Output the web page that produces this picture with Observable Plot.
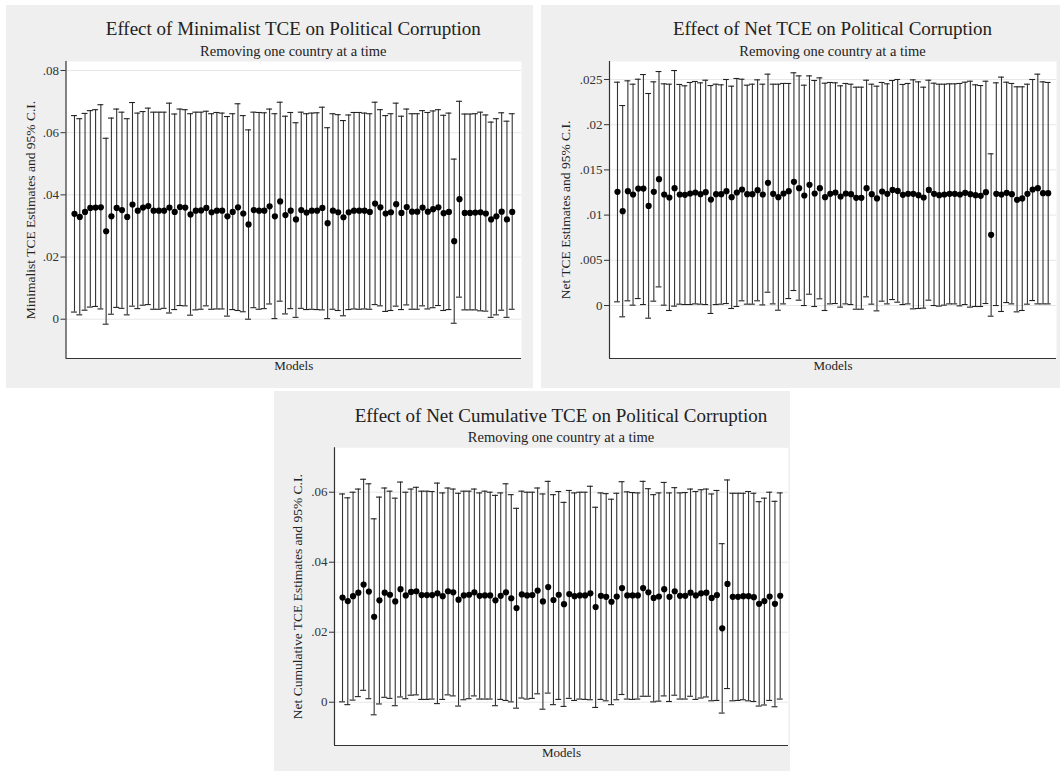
<!DOCTYPE html>
<html>
<head>
<meta charset="utf-8">
<script src="https://cdn.jsdelivr.net/npm/d3@7"></script>
<script src="https://cdn.jsdelivr.net/npm/@observablehq/plot@0.6"></script>
<style>
  body { margin: 0; background: #ffffff; }
  #root { position: relative; width: 1060px; height: 773px; overflow: hidden;
          font-family: "Liberation Serif", "Times New Roman", serif; color: #222; }
  .panel { position: absolute; background: #efefef; }
  .txt { position: absolute; white-space: nowrap; transform: translateX(-50%); line-height: 1; }
  .plotbox { position: absolute; }
  .plotbox svg { overflow: visible; }
</style>
</head>
<body>
<div id="root"></div>
<script>
// ---------------- DATA ----------------
const models = d3.range(1, 85); // 84 models, one country removed in each

const subtitle = "Removing one country at a time";
const xLabel = "Models";

// Panel 1: Minimalist TCE
const minTitle = "Effect of Minimalist TCE on Political Corruption";
const minYLabel = "Minimalist TCE Estimates and 95% C.I.";
const minTicks = [0, 0.02, 0.04, 0.06, 0.08];
const minTickLabels = ["0", ".02", ".04", ".06", ".08"];
const minEst = [0.0339,0.0329,0.0345,0.0358,0.0359,0.0360,0.0283,0.0331,0.0358,0.0351,0.0329,0.0369,0.0349,0.0359,0.0364,0.0349,0.0349,0.0349,0.0359,0.0345,0.0361,0.0359,0.0337,0.0349,0.0350,0.0358,0.0344,0.0349,0.0349,0.0331,0.0345,0.0360,0.0340,0.0305,0.0351,0.0349,0.0349,0.0363,0.0331,0.0379,0.0335,0.0349,
  0.0321,0.0351,0.0343,0.0349,0.0349,0.0358,0.0309,0.0349,0.0344,0.0328,0.0344,0.0349,0.0349,0.0349,0.0345,0.0372,0.0360,0.0340,0.0344,0.0370,0.0342,0.0361,0.0346,0.0346,0.0359,0.0346,0.0354,0.0360,0.0341,0.0345,0.0251,0.0386,0.0342,0.0342,0.0343,0.0344,0.0340,0.0321,0.0331,0.0346,0.0321,0.0345];
const minHi = [0.0655,0.0645,0.0662,0.0671,0.0674,0.0690,0.0582,0.0647,0.0676,0.0666,0.0645,0.0697,0.0663,0.0668,0.0679,0.0666,0.0666,0.0666,0.0695,0.0660,0.0676,0.0674,0.0661,0.0666,0.0666,0.0669,0.0661,0.0665,0.0663,0.0652,0.0661,0.0693,0.0655,0.0609,0.0666,0.0665,0.0664,0.0676,0.0661,0.0698,0.0653,0.0665,
  0.0632,0.0666,0.0661,0.0663,0.0664,0.0682,0.0616,0.0661,0.0658,0.0639,0.0657,0.0665,0.0665,0.0663,0.0661,0.0698,0.0674,0.0655,0.0661,0.0695,0.0653,0.0676,0.0661,0.0661,0.0671,0.0665,0.0670,0.0674,0.0656,0.0663,0.0515,0.0701,0.0660,0.0660,0.0661,0.0666,0.0657,0.0634,0.0645,0.0664,0.0637,0.0661];
const minLo = [0.0023,0.0014,0.0029,0.0039,0.0041,0.0033,-0.0016,0.0016,0.0038,0.0035,0.0014,0.0042,0.0034,0.0045,0.0047,0.0032,0.0032,0.0035,0.0020,0.0031,0.0044,0.0043,0.0013,0.0030,0.0032,0.0043,0.0032,0.0033,0.0033,0.0010,0.0031,0.0028,0.0024,0.0000,0.0037,0.0032,0.0034,0.0049,0.0002,0.0058,0.0017,0.0034,
  0.0006,0.0035,0.0031,0.0032,0.0031,0.0030,0.0002,0.0032,0.0028,0.0011,0.0031,0.0033,0.0032,0.0033,0.0032,0.0047,0.0043,0.0025,0.0028,0.0042,0.0031,0.0046,0.0032,0.0032,0.0043,0.0033,0.0037,0.0044,0.0028,0.0031,-0.0013,0.0071,0.0030,0.0030,0.0030,0.0027,0.0026,0.0006,0.0014,0.0029,0.0006,0.0032];

// Panel 2: Net TCE
const netTitle = "Effect of Net TCE on Political Corruption";
const netYLabel = "Net TCE Estimates and 95% C.I.";
const netTicks = [0, 0.005, 0.01, 0.015, 0.02, 0.025];
const netTickLabels = ["0", ".005", ".01", ".015", ".02", ".025"];
const netEst = [0.01257,0.01043,0.01265,0.01228,0.01294,0.01294,0.01102,0.01257,0.01397,0.01228,0.01195,0.01298,0.01228,0.01224,0.01239,0.01250,0.01231,0.01254,0.01172,0.01231,0.01231,0.01265,0.01198,0.01250,0.01283,0.01231,0.01231,0.01276,0.01228,0.01357,0.01235,0.01198,0.01239,0.01265,0.01368,0.01298,0.01217,0.01335,0.01239,0.01298,0.01198,0.01235,
  0.01250,0.01206,0.01239,0.01231,0.01191,0.01191,0.01298,0.01231,0.01184,0.01261,0.01235,0.01279,0.01268,0.01224,0.01235,0.01235,0.01220,0.01195,0.01279,0.01235,0.01220,0.01228,0.01235,0.01235,0.01228,0.01246,0.01231,0.01220,0.01213,0.01254,0.00782,0.01235,0.01228,0.01246,0.01231,0.01169,0.01184,0.01235,0.01283,0.01298,0.01243,0.01243];
const netHi = [0.02470,0.02212,0.02485,0.02448,0.02503,0.02555,0.02345,0.02474,0.02588,0.02452,0.02448,0.02599,0.02445,0.02430,0.02467,0.02478,0.02463,0.02492,0.02433,0.02448,0.02441,0.02500,0.02426,0.02511,0.02503,0.02437,0.02448,0.02496,0.02448,0.02559,0.02448,0.02448,0.02456,0.02456,0.02574,0.02540,0.02437,0.02540,0.02489,0.02518,0.02459,0.02467,
  0.02463,0.02430,0.02456,0.02448,0.02415,0.02415,0.02492,0.02448,0.02426,0.02467,0.02452,0.02489,0.02500,0.02445,0.02456,0.02496,0.02474,0.02415,0.02492,0.02459,0.02448,0.02448,0.02452,0.02452,0.02456,0.02470,0.02481,0.02441,0.02433,0.02481,0.01678,0.02463,0.02526,0.02470,0.02456,0.02419,0.02419,0.02448,0.02500,0.02559,0.02474,0.02467];
const netLo = [0.00041,-0.00125,0.00052,0.00004,0.00077,0.00011,-0.00140,0.00048,0.00206,0.00004,-0.00055,-0.00007,0.00015,0.00011,0.00011,0.00018,0.00015,0.00011,-0.00088,0.00011,0.00015,0.00022,-0.00033,-0.00011,0.00052,0.00015,0.00015,0.00052,0.00007,0.00147,0.00018,-0.00052,0.00018,0.00077,0.00166,0.00059,0.00000,0.00125,-0.00011,0.00074,-0.00055,0.00018,
  0.00022,-0.00018,0.00018,0.00011,-0.00041,-0.00041,0.00096,0.00015,-0.00059,0.00048,0.00018,0.00066,0.00037,0.00011,0.00018,-0.00037,-0.00033,-0.00029,0.00059,0.00000,-0.00007,0.00004,0.00018,0.00018,-0.00004,0.00011,-0.00018,-0.00011,-0.00011,0.00022,-0.00118,0.00000,-0.00066,0.00033,0.00018,-0.00070,-0.00055,0.00015,0.00055,0.00018,0.00018,0.00018];

// Panel 3: Net Cumulative TCE
const cumTitle = "Effect of Net Cumulative TCE on Political Corruption";
const cumYLabel = "Net Cumulative TCE Estimates and 95% C.I.";
const cumTicks = [0, 0.02, 0.04, 0.06];
const cumTickLabels = ["0", ".02", ".04", ".06"];
const cumEst = [0.0299,0.0289,0.0303,0.0313,0.0336,0.0316,0.0244,0.0291,0.0313,0.0307,0.0288,0.0323,0.0305,0.0315,0.0317,0.0306,0.0306,0.0306,0.0311,0.0303,0.0317,0.0314,0.0293,0.0305,0.0307,0.0314,0.0304,0.0305,0.0305,0.0291,0.0304,0.0314,0.0297,0.0269,0.0308,0.0305,0.0306,0.0319,0.0288,0.0329,0.0292,0.0307,
  0.0280,0.0309,0.0303,0.0305,0.0305,0.0311,0.0272,0.0304,0.0301,0.0287,0.0302,0.0326,0.0305,0.0305,0.0305,0.0326,0.0314,0.0298,0.0302,0.0323,0.0301,0.0317,0.0304,0.0304,0.0313,0.0305,0.0311,0.0313,0.0298,0.0306,0.0211,0.0338,0.0301,0.0301,0.0303,0.0303,0.0300,0.0281,0.0289,0.0302,0.0281,0.0304];
const cumHi = [0.0595,0.0584,0.0600,0.0609,0.0637,0.0624,0.0524,0.0586,0.0612,0.0603,0.0583,0.0629,0.0600,0.0609,0.0614,0.0603,0.0603,0.0602,0.0626,0.0598,0.0612,0.0609,0.0597,0.0603,0.0603,0.0609,0.0598,0.0603,0.0600,0.0591,0.0598,0.0624,0.0593,0.0554,0.0603,0.0600,0.0600,0.0612,0.0595,0.0631,0.0593,0.0602,
  0.0571,0.0605,0.0598,0.0600,0.0600,0.0617,0.0557,0.0598,0.0596,0.0580,0.0597,0.0630,0.0601,0.0599,0.0598,0.0631,0.0610,0.0593,0.0598,0.0628,0.0598,0.0613,0.0598,0.0599,0.0609,0.0602,0.0607,0.0609,0.0595,0.0605,0.0453,0.0635,0.0597,0.0597,0.0597,0.0602,0.0597,0.0573,0.0583,0.0600,0.0574,0.0598];
const cumLo = [0.0001,-0.0007,0.0006,0.0016,0.0034,0.0010,-0.0036,-0.0005,0.0014,0.0011,-0.0010,0.0015,0.0010,0.0020,0.0021,0.0008,0.0008,0.0009,-0.0004,0.0008,0.0021,0.0018,-0.0011,0.0007,0.0010,0.0018,0.0009,0.0009,0.0009,-0.0010,0.0008,0.0005,0.0001,-0.0017,0.0012,0.0009,0.0011,0.0024,-0.0020,0.0026,-0.0007,0.0008,
  -0.0012,0.0011,0.0005,0.0009,0.0008,0.0007,-0.0015,0.0008,0.0004,-0.0007,0.0007,0.0022,0.0009,0.0008,0.0009,0.0017,0.0017,0.0001,0.0003,0.0018,0.0002,0.0020,0.0009,0.0009,0.0017,0.0008,0.0012,0.0015,0.0004,0.0005,-0.0031,0.0039,0.0004,0.0005,0.0007,0.0004,0.0002,-0.0011,-0.0008,0.0005,-0.0013,0.0009];

// ---------------- LAYOUT ----------------
const panels = [
  { box: [6, 5, 527, 383], svg: [6, 58, 527, 330], m: [3, 12, 30, 59.5],
    title: minTitle, titleX: 293.3, titleTop: 19.1, subTop: 43.6,
    yLabel: minYLabel, yOff: 41, ticks: minTicks, tickLabels: minTickLabels,
    est: minEst, lo: minLo, hi: minHi, xDomain: [-0.61, 85.76], yDomain: [-0.01264, 0.0829] },
  { box: [541, 5, 519, 383], svg: [541, 58, 519, 330], m: [3, 4, 30, 68],
    title: netTitle, titleX: 832.5, titleTop: 19.1, subTop: 43.6,
    yLabel: netYLabel, yOff: 48.6, ticks: netTicks, tickLabels: netTickLabels,
    est: netEst, lo: netLo, hi: netHi, xDomain: [-0.54, 85.6], yDomain: [-0.00586, 0.02699] },
  { box: [274, 391, 516, 380], svg: [274, 444, 516, 327], m: [3.3, 2, 26, 60],
    title: cumTitle, titleX: 561, titleTop: 406.4, subTop: 429.6,
    yLabel: cumYLabel, yOff: 41.9, ticks: cumTicks, tickLabels: cumTickLabels,
    est: cumEst, lo: cumLo, hi: cumHi, xDomain: [-0.52, 85.57], yDomain: [-0.01237, 0.07269] }
];

const root = document.getElementById("root");
const capHalf = 0.56;
const FONT = '"Liberation Serif", "Times New Roman", serif';

for (const p of panels) {
  const bg = document.createElement("div");
  bg.className = "panel";
  Object.assign(bg.style, { left: p.box[0] + "px", top: p.box[1] + "px", width: p.box[2] + "px", height: p.box[3] + "px" });
  root.appendChild(bg);

  const t = document.createElement("div");
  t.className = "txt";
  t.textContent = p.title;
  Object.assign(t.style, { left: p.titleX + "px", top: p.titleTop + "px", fontSize: "19px", color: "#222" });
  root.appendChild(t);

  const s = document.createElement("div");
  s.className = "txt";
  s.textContent = subtitle;
  Object.assign(s.style, { left: p.titleX + "px", top: p.subTop + "px", fontSize: "14.5px", color: "#222" });
  root.appendChild(s);

  const data = models.map((m, k) => ({ model: m, est: p.est[k], lo: p.lo[k], hi: p.hi[k] }));
  const labelOf = new Map(p.ticks.map((v, k) => [v, p.tickLabels[k]]));

  const chart = Plot.plot({
    width: p.svg[2], height: p.svg[3],
    marginTop: p.m[0], marginRight: p.m[1], marginBottom: p.m[2], marginLeft: p.m[3],
    style: { background: "transparent", fontFamily: FONT, fontSize: "13px", color: "#333", overflow: "visible" },
    x: { domain: p.xDomain, axis: null },
    y: { domain: p.yDomain, axis: null },
    marks: [
      Plot.frame({ fill: "white", stroke: null }),
      Plot.gridY(p.ticks, { stroke: "#e7e7e7", strokeOpacity: 1, strokeWidth: 1 }),
      Plot.ruleX(data, { x: "model", y1: "lo", y2: "hi", stroke: "#333", strokeWidth: 1.1 }),
      Plot.ruleY(data, { y: "hi", x1: d => d.model - capHalf, x2: d => d.model + capHalf, stroke: "#222", strokeWidth: 1.1 }),
      Plot.ruleY(data, { y: "lo", x1: d => d.model - capHalf, x2: d => d.model + capHalf, stroke: "#222", strokeWidth: 1.1 }),
      Plot.dot(data, { x: "model", y: "est", r: 3.1, fill: "#000", stroke: null }),
      Plot.axisY(p.ticks, { tickFormat: v => labelOf.get(v), tickSize: 5, tickPadding: 2, stroke: "#333", fill: "#333", fontSize: 13, label: null }),
      Plot.ruleX([p.xDomain[0]], { stroke: "#333", strokeWidth: 1.2 }),
      Plot.ruleY([p.yDomain[0]], { stroke: "#333", strokeWidth: 1.2 }),
      Plot.text([p.yLabel], { frameAnchor: "left", rotate: -90, lineAnchor: "top", textAnchor: "middle", dx: -p.yOff, fontSize: 13.5, fill: "#222" }),
      Plot.text([xLabel], { frameAnchor: "bottom", lineAnchor: "bottom", textAnchor: "middle", dy: 11.3, fontSize: 13, fill: "#222" })
    ]
  });
  const holder = document.createElement("div");
  holder.className = "plotbox";
  Object.assign(holder.style, { left: p.svg[0] + "px", top: p.svg[1] + "px", width: p.svg[2] + "px", height: p.svg[3] + "px" });
  holder.appendChild(chart);
  root.appendChild(holder);
}
</script>
</body>
</html>
